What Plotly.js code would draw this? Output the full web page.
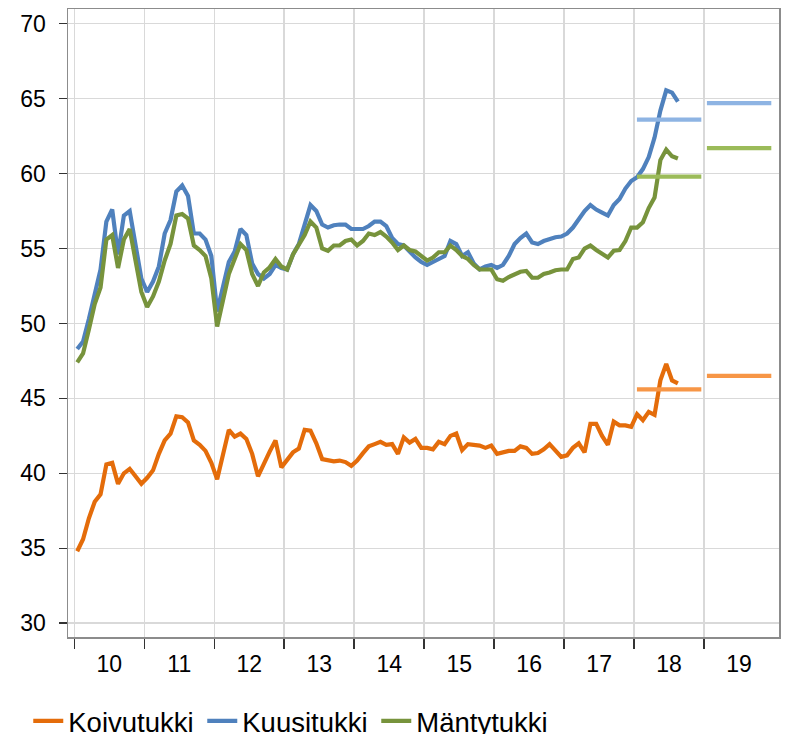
<!DOCTYPE html>
<html>
<head>
<meta charset="utf-8">
<script src="https://cdn.plot.ly/plotly-3.0.1.min.js"></script>
<style>
  body { margin: 0; background: #fff; }
  #plot { width: 785px; height: 734px; }
</style>
</head>
<body>
<div id="plot"></div>
<script>
// Monthly prices from Jan 2010 to Aug 2018 (€/m3)
const startYear = 2010;

const koivutukki = [
  34.8, 35.6, 37.0, 38.1, 38.6, 40.6, 40.7, 39.3, 40.0, 40.3, 39.8, 39.3,
  39.7, 40.2, 41.3, 42.2, 42.65, 43.8, 43.75, 43.4, 42.2, 41.9, 41.5, 40.7,
  39.6, 41.3, 42.9, 42.45, 42.65, 42.3, 41.3, 39.8, 40.7, 41.45, 42.2, 40.4,
  40.9, 41.4, 41.65, 42.9, 42.85, 42.0, 40.95, 40.9, 40.8, 40.85, 40.75, 40.5,
  40.85, 41.35, 41.8, 41.95, 42.1, 41.9, 41.95, 41.3, 42.4, 42.05, 42.3, 41.7,
  41.7, 41.6, 42.1, 41.95, 42.5, 42.65, 41.55, 41.95, 41.9, 41.85, 41.7, 41.85,
  41.3, 41.4, 41.5, 41.5, 41.8, 41.7, 41.3, 41.35, 41.6, 41.95, 41.5, 41.1,
  41.2, 41.7, 42.0, 41.4, 43.3, 43.3, 42.5, 41.9, 43.45, 43.2, 43.2, 43.1,
  43.95, 43.55, 44.1, 43.9, 46.2, 47.3, 46.2, 46.0
];

const kuusitukki = [
  48.3, 48.8, 50.3, 51.9, 53.6, 56.8, 57.6, 54.6, 57.2, 57.5, 55.2, 53.0,
  52.1, 52.8, 53.8, 56.0, 56.9, 58.8, 59.2, 58.5, 56.0, 56.0, 55.6, 54.5,
  50.8, 52.5, 54.1, 54.8, 56.3, 55.9, 54.0, 53.3, 53.0, 53.3, 53.9, 53.7,
  53.6, 54.6, 55.3, 56.6, 57.9, 57.5, 56.6, 56.4, 56.55, 56.6, 56.6, 56.3,
  56.3, 56.3, 56.5, 56.8, 56.8, 56.5, 55.7, 55.3, 55.2, 54.8, 54.4, 54.1,
  53.9, 54.1, 54.3, 54.5, 55.5, 55.3, 54.5, 54.75, 54.0, 53.6, 53.8, 53.9,
  53.7, 53.9, 54.5, 55.3, 55.7, 56.0, 55.4, 55.3, 55.5, 55.65, 55.75, 55.8,
  56.0, 56.4, 57.0, 57.5, 57.9, 57.6, 57.4, 57.2, 57.9, 58.3, 59.0, 59.5,
  59.75, 60.3, 61.1, 62.4, 64.2, 65.55, 65.4, 64.8
];

const mantytukki = [
  47.4, 48.0, 49.6, 51.3, 52.4, 55.6, 55.9, 53.7, 55.6, 56.3, 54.2, 52.1,
  51.1, 51.8, 52.8, 54.2, 55.3, 57.2, 57.3, 57.0, 55.2, 54.9, 54.5, 53.0,
  49.8, 51.6, 53.3, 54.3, 55.3, 54.9, 53.3, 52.5, 53.4, 53.75, 54.3, 53.8,
  53.6, 54.6, 55.3, 55.9, 56.8, 56.4, 55.0, 54.85, 55.2, 55.2, 55.5, 55.6,
  55.2, 55.5, 56.0, 55.9, 56.1, 55.8, 55.4, 54.9, 55.2, 54.9, 54.8, 54.5,
  54.2, 54.4, 54.75, 54.75, 55.2, 54.9, 54.5, 54.3, 53.9, 53.6, 53.6, 53.6,
  52.95, 52.85, 53.1, 53.25, 53.45, 53.5, 53.05, 53.05, 53.3, 53.4, 53.55, 53.6,
  53.6, 54.3, 54.4, 55.0, 55.2, 54.9, 54.65, 54.4, 54.85, 54.9, 55.5, 56.4,
  56.4, 56.75, 57.7, 58.4, 60.9, 61.6, 61.15, 61.0
];

// Forecasts for 2018 and 2019
const forecastYears = [2018, 2019];
const koivuForecast = [45.6, 46.5];
const kuusiForecast = [63.6, 64.7];
const mantyForecast = [59.8, 61.7];

const years = [2010, 2011, 2012, 2013, 2014, 2015, 2016, 2017, 2018, 2019];
const yearLabels = ['10', '11', '12', '13', '14', '15', '16', '17', '18', '19'];

const months = koivutukki.map((_, i) => startYear + (i + 0.5) / 12);

// one flat segment per forecast year, inset a little from the year boundaries
function forecastX() {
  const xs = [];
  forecastYears.forEach(y => { xs.push(y + 0.04, y + 0.96, null); });
  return xs;
}
function forecastY(vals) {
  const ys = [];
  vals.forEach(v => { ys.push(v, v, null); });
  return ys;
}

const cKoivu = '#E46C0A', cKuusi = '#4F81BD', cManty = '#77933C';

const traces = [
  { x: months, y: koivutukki, name: 'Koivutukki', type: 'scatter', mode: 'lines', line: { color: cKoivu, width: 4.2 } },
  { x: months, y: kuusitukki, name: 'Kuusitukki', type: 'scatter', mode: 'lines', line: { color: cKuusi, width: 4.2 } },
  { x: months, y: mantytukki, name: 'Mäntytukki', type: 'scatter', mode: 'lines', line: { color: cManty, width: 4.2 } },
  { x: forecastX(), y: forecastY(koivuForecast), type: 'scatter', mode: 'lines', line: { color: '#F79646', width: 4.2 }, showlegend: false },
  { x: forecastX(), y: forecastY(kuusiForecast), type: 'scatter', mode: 'lines', line: { color: '#8EB4E3', width: 4.2 }, showlegend: false },
  { x: forecastX(), y: forecastY(mantyForecast), type: 'scatter', mode: 'lines', line: { color: '#9BBB59', width: 4.2 }, showlegend: false }
];

const layout = {
  width: 785, height: 734,
  margin: { l: 68, r: 6, t: 9, b: 97 },
  paper_bgcolor: '#fff', plot_bgcolor: '#fff',
  font: { family: '"Liberation Sans", Arial, sans-serif', size: 23, color: '#000' },
  showlegend: true,
  legend: {
    orientation: 'h', xref: 'container', yref: 'container',
    x: 0.036, y: 0.051, xanchor: 'left', yanchor: 'top',
    font: { size: 27.5 }, itemwidth: 30, traceorder: 'normal',
    entrywidth: 129, entrywidthmode: 'pixels'
  },
  xaxis: {
    range: [2009.91, 2020.07],
    tickmode: 'array',
    tickvals: years.map(y => y + 0.5),
    ticktext: yearLabels,
    ticks: '', showgrid: false, zeroline: false,
    showline: true, linecolor: '#8c8c8c', linewidth: 1.5, mirror: true,
    ticklabelstandoff: 6,
    minor: {
      tickmode: 'array', tickvals: years,
      ticks: 'outside', ticklen: 10, tickwidth: 1.5, tickcolor: '#333',
      showgrid: true, gridcolor: '#d9d9d9', gridwidth: 1.5
    }
  },
  yaxis: {
    range: [29.08, 70.98],
    tickmode: 'linear', tick0: 30, dtick: 5,
    ticks: 'outside', ticklen: 8, tickwidth: 1.5, tickcolor: '#333',
    ticklabelstandoff: 8,
    showgrid: true, gridcolor: '#d9d9d9', gridwidth: 1.5, zeroline: false,
    showline: true, linecolor: '#8c8c8c', linewidth: 1.5, mirror: true
  }
};

Plotly.newPlot('plot', traces, layout, { displayModeBar: false, staticPlot: true });
</script>
</body>
</html>
